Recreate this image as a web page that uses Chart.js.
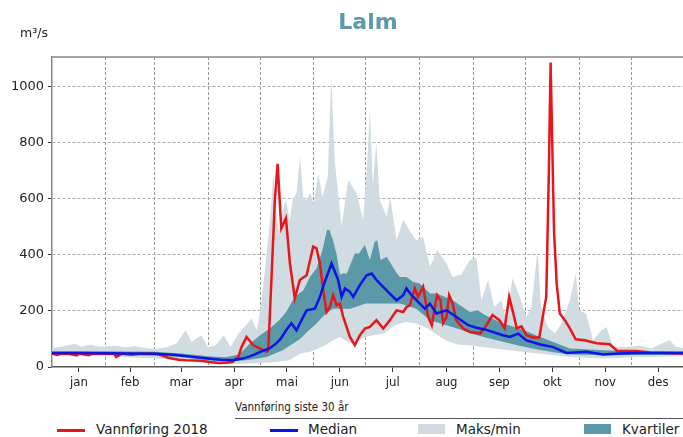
<!DOCTYPE html>
<html>
<head>
<meta charset="utf-8">
<script src="https://cdn.jsdelivr.net/npm/chart.js@4.4.1/dist/chart.umd.min.js"></script>
<style>
  html, body { margin: 0; padding: 0; background: #fff; overflow: hidden; }
  body { width: 683px; height: 437px; position: relative; font-family: 'DejaVu Sans', sans-serif; color: #222; }
  #wrap { position: absolute; left: 0; top: 0; }
  .title { position: absolute; left: 268px; width: 200px; top: 9px; text-align: center; font: bold 22px 'DejaVu Sans', sans-serif; color: #5b9aab; }
  .unit { position: absolute; left: 20px; top: 25px; font-size: 12.5px; }
  .head { position: absolute; left: 235px; top: 400px; font: 11.5px 'DejaVu Sans Condensed', 'DejaVu Sans', sans-serif; }
  .rule { position: absolute; left: 235px; top: 418px; width: 460px; height: 1px; background: #555; }
  .item { position: absolute; top: 421px; font-size: 13.5px; line-height: 17px; white-space: nowrap; }
  .sw { position: absolute; }
</style>
</head>
<body>
<div id="wrap"><canvas id="c" width="700" height="395"></canvas></div>
<div class="title">Lalm</div>
<div class="unit">m³/s</div>
<div class="head">Vannføring siste 30 år</div>
<div class="rule"></div>
<div class="sw" style="left:57px;top:429px;width:28px;height:3px;background:#e8161b"></div>
<div class="item" style="left:96px">Vannføring 2018</div>
<div class="sw" style="left:270px;top:429px;width:28px;height:3px;background:#0a14e6"></div>
<div class="item" style="left:308px">Median</div>
<div class="sw" style="left:418px;top:424px;width:27px;height:10px;background:#d0dce1"></div>
<div class="item" style="left:456px">Maks/min</div>
<div class="sw" style="left:584px;top:424px;width:27px;height:10px;background:#5b98a8"></div>
<div class="item" style="left:622px">Kvartiler</div>

<script>
// month axis
const monthNames = ['jan', 'feb', 'mar', 'apr', 'mai', 'jun', 'jul', 'aug', 'sep', 'okt', 'nov', 'des'];
const monthStarts = [0, 31, 59, 90, 120, 151, 181, 212, 243, 273, 304, 334, 365];
const yTicks = [0, 200, 400, 600, 800, 1000];

// Vannføring 2018 (day of year, m3/s)
const obsDays = [0, 3, 5, 10, 14, 16, 21, 23, 30, 36, 37, 40, 46, 50, 57, 61, 67, 73, 77, 86,
  92, 96, 100, 104, 107.4, 109.3, 112.2, 116, 121.8, 123.7, 124.7, 126.6, 128.5, 130.1, 132.2, 134.9, 137.2, 140, 142.9, 146.8,
  150.6, 152.5, 154.5, 156.4, 158.3, 160.2, 162.1, 164.1, 166, 167.9, 171.8, 174.6, 177.5, 180.4, 183.3, 187.1, 191, 194.8, 198.7, 202.5,
  204.4, 206.3, 209.2, 211.1, 214, 216.9, 219, 222, 224, 225.5, 227.5, 229, 231, 233, 237, 241, 247, 250.5, 254, 258,
  261, 263.6, 266, 268, 270.7, 273.6, 277.4, 281, 283.6, 285, 286.5, 287.5, 288.5, 289.5, 291, 292.8, 295.7, 298.6, 302, 307,
  314, 321.6, 326, 337, 345, 355, 365];
const obsFlow = [48, 43, 48, 47, 41, 48, 42, 47, 48, 47, 36, 47, 44, 46, 47, 46, 33, 26, 24, 22,
  17, 14, 15, 18, 36, 71, 107, 78, 60, 54, 60, 321, 595, 724, 494, 530, 369, 245, 310, 327,
  429, 423, 369, 274, 196, 214, 256, 220, 226, 179, 107, 78, 113, 137, 143, 167, 137, 167, 202, 196,
  214, 220, 280, 250, 286, 179, 149, 256, 238, 156, 179, 256, 227, 167, 138, 125, 120, 149, 185, 167,
  138, 250, 191, 138, 145, 113, 105, 105, 202, 250, 700, 1085, 780, 480, 298, 191, 167, 138, 99, 95,
  85, 81, 57, 57, 52, 50, 48];

// Median siste 30 år
const medDays = [0, 15, 30, 45, 59, 70, 80, 90, 97, 104, 110, 114, 117, 120, 125.6, 129.5, 132, 135, 138, 141,
  142.9, 146.8, 151.6, 154.5, 157.3, 161.2, 165, 167, 168.9, 171.8, 173.7, 177.5, 181.4, 184.3, 187.1, 191, 193.8, 198.7, 202.5, 204.4,
  207.3, 212.1, 215, 217.9, 221.7, 227.5, 233, 240, 244.8, 249.6, 254, 260, 264, 268.8, 273.6, 281, 289, 296.6, 308, 317.8,
  327, 337, 348.5, 365];
const median = [50, 50, 49, 48, 47, 44, 37, 30, 26, 24, 30, 38, 45, 54, 67, 85, 102, 131, 156, 131,
  155, 202, 208, 250, 304, 369, 310, 250, 280, 268, 250, 292, 327, 333, 310, 286, 268, 238, 256, 280,
  256, 226, 208, 226, 191, 202, 179, 149, 140, 134, 125, 113, 107, 119, 95, 81, 71, 50, 54, 45,
  48, 50, 50, 50];

// Kvartiler (øvre / nedre)
const q75Days = [0, 30, 59, 75, 90, 100, 108, 114, 120, 125.6, 131, 135, 140, 145, 148.7, 152.5, 156, 158.5, 160, 162,
  164, 166, 168, 170, 174.6, 177, 180.4, 183.3, 186, 187.5, 189.5, 193, 198.7, 200.6, 204.4, 208, 212, 218, 222, 231,
  241, 245.5, 249.6, 260, 269.7, 279, 289, 298.6, 318, 337, 365];
const q75 = [56, 56, 54, 48, 38, 35, 45, 83, 113, 137, 167, 196, 250, 274, 321, 351, 417, 488, 488, 452,
  405, 330, 334, 333, 405, 405, 435, 381, 446, 452, 381, 393, 335, 321, 321, 304, 298, 262, 262, 238,
  196, 202, 185, 155, 137, 113, 89, 66, 60, 54, 56];
const q25Days = [0, 30, 59, 75, 90, 100, 108, 114, 123.7, 133, 143, 148, 152.5, 157, 162, 172, 181, 191, 200.6, 210,
  218, 227, 235, 241, 250, 260, 270, 280, 290, 300, 318, 337, 365];
const q25 = [44, 44, 42, 35, 24, 20, 22, 26, 36, 60, 100, 130, 155, 185, 208, 208, 226, 226, 226, 208,
  167, 150, 135, 120, 105, 90, 75, 62, 52, 45, 42, 43, 44];

// Maks/min
const maxDays = [0, 5, 10, 13, 17, 22, 27, 33, 37, 42, 48, 55, 60, 66, 72, 77, 80.5, 86, 90, 94,
  99, 103, 107.5, 111, 115, 118, 120, 122, 124, 126, 127.6, 129, 131, 133, 135, 137, 139, 141, 143, 145,
  147, 149, 151, 153.5, 156, 159, 161, 163, 167, 170.8, 175.6, 179.4, 181.5, 183.3, 185, 187, 189, 193, 195, 198.7,
  202.5, 206, 210, 214, 218, 222, 227.5, 231, 236, 241, 244.8, 247.6, 251.5, 255, 259, 262, 265.5, 269.7, 273.6, 276.5,
  280, 282, 285.8, 290, 293.7, 298.6, 302, 304, 308, 312, 316.8, 319.7, 323.6, 331, 339, 345.6, 351.4, 356, 360, 365];
const maxFlow = [68, 72, 78, 83, 72, 80, 72, 75, 76, 70, 74, 66, 65, 70, 85, 131, 89, 113, 71, 75,
  113, 71, 119, 143, 173, 131, 200, 300, 420, 540, 692, 560, 480, 560, 595, 520, 600, 620, 750, 595,
  600, 620, 580, 690, 607, 679, 1036, 738, 500, 667, 620, 524, 700, 917, 650, 799, 595, 536, 607, 452,
  524, 488, 452, 464, 357, 417, 369, 321, 330, 381, 388, 238, 310, 214, 238, 167, 316, 250, 179, 214,
  417, 214, 143, 119, 155, 238, 333, 202, 191, 95, 131, 143, 71, 71, 77, 66, 83, 95, 71, 68];
const minDays = [0, 30, 59, 75, 90, 100, 110, 120, 130, 137, 143, 149, 158, 162, 166, 172, 180, 185, 191, 198,
  204, 210, 216, 222, 228, 234, 241, 260, 280, 299, 318, 337, 365];
const minFlow = [38, 38, 30, 25, 18, 12, 12, 14, 18, 24, 48, 54, 78, 95, 107, 85, 105, 113, 118, 150,
  160, 155, 140, 115, 92, 80, 77, 62, 48, 36, 30, 36, 38];

const monthMid = monthNames.map((m, i) => (monthStarts[i] + monthStarts[i + 1]) / 2);
const pts = (days, vals) => days.map((d, i) => ({ x: d, y: vals[i] }));
const condensed = "'DejaVu Sans Condensed', 'DejaVu Sans', sans-serif";

const band = (data, color, fill) => ({
  data, fill, backgroundColor: color, borderColor: 'rgba(0,0,0,0)', borderWidth: 0, pointRadius: 0
});

// top spine like the original frame
const frame = {
  id: 'frame',
  afterDatasetsDraw(chart) {
    const { ctx, chartArea } = chart;
    ctx.save();
    ctx.strokeStyle = '#888';
    ctx.lineWidth = 1.5;
    ctx.beginPath();
    ctx.moveTo(chartArea.left, chartArea.top);
    ctx.lineTo(chartArea.right, chartArea.top);
    ctx.stroke();
    ctx.restore();
  }
};

new Chart(document.getElementById('c'), {
  type: 'line',
  data: {
    datasets: [
      { label: 'Median', data: pts(medDays, median), borderColor: '#0a14e6', borderWidth: 2.5, pointRadius: 0, fill: false },
      { label: 'Vannføring 2018', data: pts(obsDays, obsFlow), borderColor: '#e8161b', borderWidth: 2.5, pointRadius: 0, fill: false },
      band(pts(q75Days, q75), '#5b98a8', '+1'),
      band(pts(q25Days, q25), 'rgba(0,0,0,0)', false),
      band(pts(maxDays, maxFlow), '#d0dce1', '+1'),
      band(pts(minDays, minFlow), 'rgba(0,0,0,0)', false)
    ]
  },
  options: {
    responsive: false,
    animation: false,
    layout: { padding: { top: 57, right: 15, bottom: 0, left: 0 } },
    plugins: { legend: { display: false }, tooltip: { enabled: false } },
    scales: {
      x: {
        type: 'linear', min: 0, max: 365, position: 'bottom',
        afterBuildTicks: (s) => { s.ticks = monthMid.map((v) => ({ value: v })); },
        afterFit: (s) => { s.height = 28; },
        ticks: { autoSkip: false, maxRotation: 0, padding: 3, color: '#222',
          font: { size: 13, family: condensed }, callback: (v, i) => monthNames[i] },
        grid: { drawOnChartArea: false, tickLength: 5, tickColor: '#333' },
        border: { color: '#555', width: 1.5 }
      },
      x2: {
        type: 'linear', min: 0, max: 365, position: 'bottom',
        afterBuildTicks: (s) => { s.ticks = monthStarts.slice(1, 12).map((v) => ({ value: v })); },
        afterFit: (s) => { s.height = 0; },
        ticks: { display: false },
        grid: { color: '#999', drawTicks: false },
        border: { display: false, dash: [3, 2] }
      },
      y: {
        min: 0, max: 1105,
        afterBuildTicks: (s) => { s.ticks = yTicks.map((v) => ({ value: v })); },
        afterFit: (s) => { s.width = 52; },
        ticks: { padding: 4, color: '#222', font: { size: 13, family: 'DejaVu Sans' }, callback: (v) => String(v) },
        grid: { color: (c) => (c.tick && c.tick.value === 0 ? 'rgba(0,0,0,0)' : '#aaa'), tickLength: 4, tickColor: '#333' },
        border: { color: '#888', width: 1.5, dash: [3, 2] }
      }
    }
  },
  plugins: [frame]
});
</script>
</body>
</html>
